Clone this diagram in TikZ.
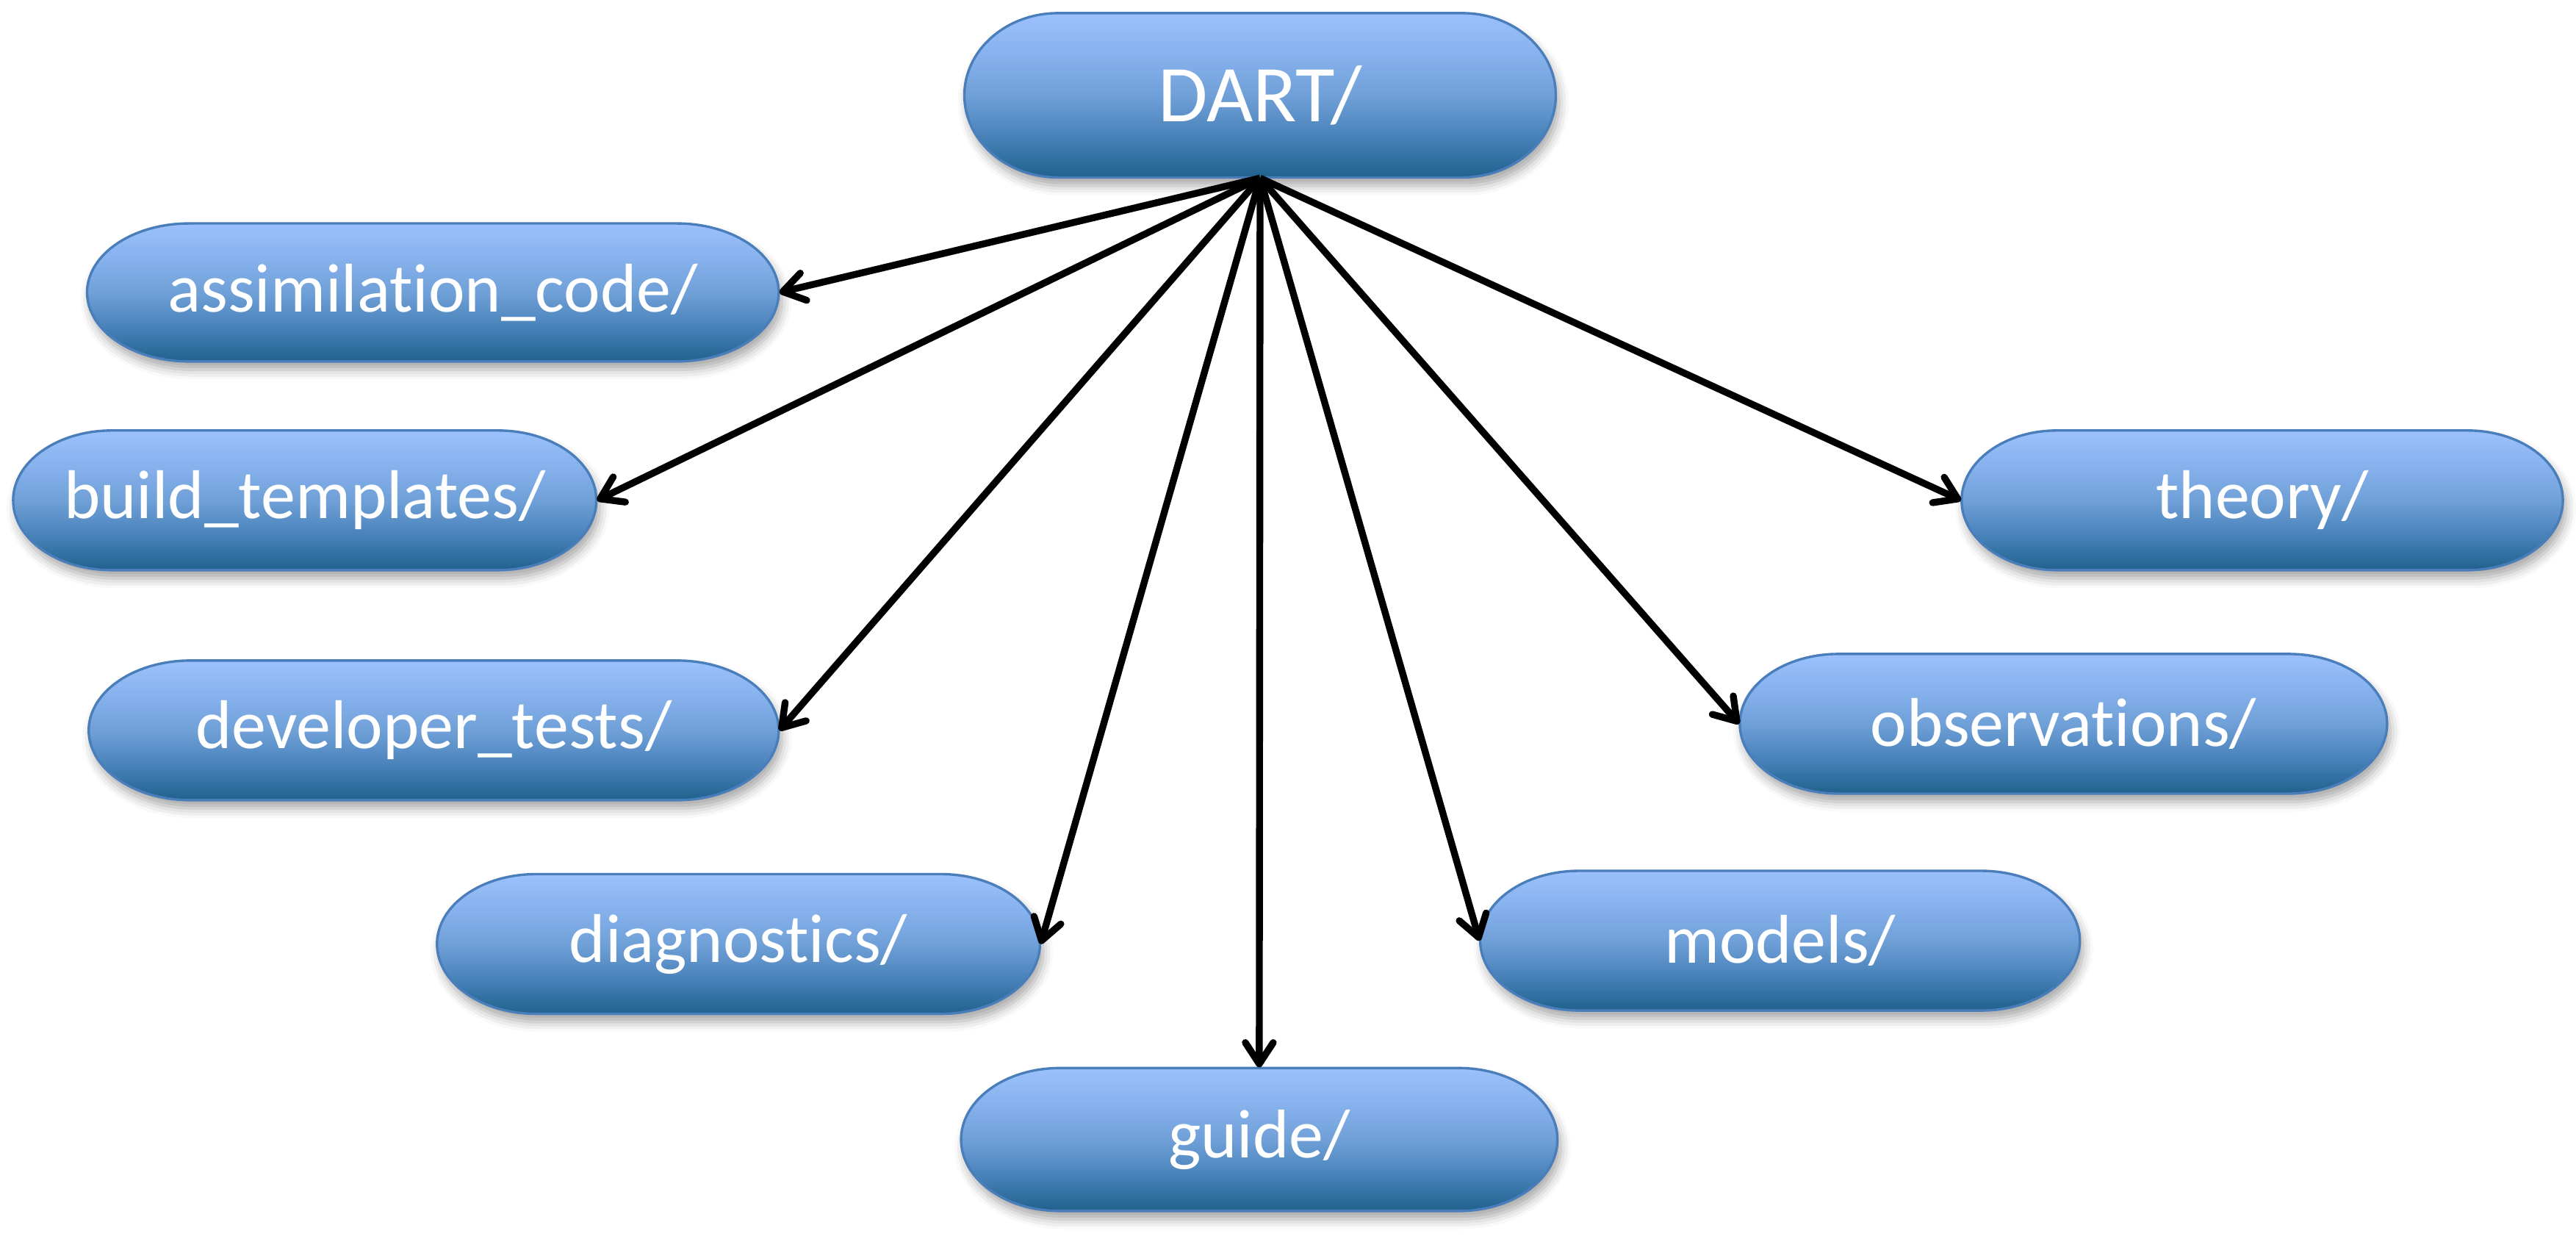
\documentclass[tikz,border=0pt]{standalone}
\usepackage{fontspec}
\setmainfont{Carlito}[Ligatures={NoCommon}]
\usetikzlibrary{arrows.meta,shadows.blur}
\definecolor{cbot}{RGB}{32,97,141}
\definecolor{cm1}{RGB}{72,130,185}
\definecolor{cm2}{RGB}{112,160,216}
\definecolor{cm3}{RGB}{135,178,237}
\definecolor{ctop}{RGB}{155,193,252}
\definecolor{boxline}{RGB}{74,126,187}
\pgfdeclareverticalshading{dirshade}{100bp}{color(0bp)=(cbot); color(25bp)=(cbot); color(37.5bp)=(cm1); color(50bp)=(cm2); color(62.5bp)=(cm3); color(75bp)=(ctop); color(100bp)=(ctop)}
\tikzset{
  dirfill/.style={shading=dirshade, draw=boxline, line width=0.75pt,
    blur shadow={shadow xshift=1pt, shadow yshift=-2.5pt, shadow blur radius=3pt, shadow opacity=35}},
  dirtext/.style={text=white, inner sep=0pt, font=\fontsize{21}{25}\selectfont},
  link/.style={line width=2.1pt, -{Straight Barb[length=6.5pt,width=8.5pt,round]}},
}
% #1 name, #2 cx, #3 cy, #4 w, #5 h, #6 rx, #7 font, #8 text
\newcommand\dirbox[8]{%
  \path[dirfill] (#2-#4/2+#6, #3+#5/2) -- (#2+#4/2-#6, #3+#5/2)
    arc[start angle=90, end angle=-90, x radius=#6, y radius=#5/2]
    -- (#2-#4/2+#6, #3-#5/2)
    arc[start angle=270, end angle=90, x radius=#6, y radius=#5/2] -- cycle;
  \node[dirtext, minimum width=#4*0.5pt, minimum height=#5*0.5pt] (#1) at (#2,#3) {#7#8};
}
\begin{document}
\begin{tikzpicture}[x=0.5pt,y=0.5pt]
\useasboundingbox (0,0) rectangle (1568,754);
\dirbox{dart}{767}{696}{360}{100}{57}{\fontsize{24.5}{29}\selectfont}{DART/}
\dirbox{assim}{263.5}{576}{421}{84}{62}{}{assimilation\_code/}
\dirbox{build}{185.5}{449.5}{355}{85}{60}{}{build\_templates/}
\dirbox{dev}{264}{309.5}{420}{85}{62}{}{developer\_tests/}
\dirbox{diag}{449.5}{179.5}{367}{85}{60}{}{diagnostics/}
\dirbox{guide}{766.5}{60.5}{363}{87}{60}{}{guide/}
\dirbox{models}{1083.5}{181.5}{365}{85}{60}{}{models/}
\dirbox{obs}{1256}{313.5}{394}{85}{60}{}{observations/}
\dirbox{theory}{1377}{449.5}{366}{85}{58}{}{theory/}
\draw[link] (dart.south) -- (assim.east);
\draw[link] (dart.south) -- (build.east);
\draw[link] (dart.south) -- (dev.east);
\draw[link] (dart.south) -- (diag.east);
\draw[link] (dart.south) -- (guide.north);
\draw[link] (dart.south) -- (models.west);
\draw[link] (dart.south) -- (obs.west);
\draw[link] (dart.south) -- (theory.west);
\end{tikzpicture}
\end{document}
